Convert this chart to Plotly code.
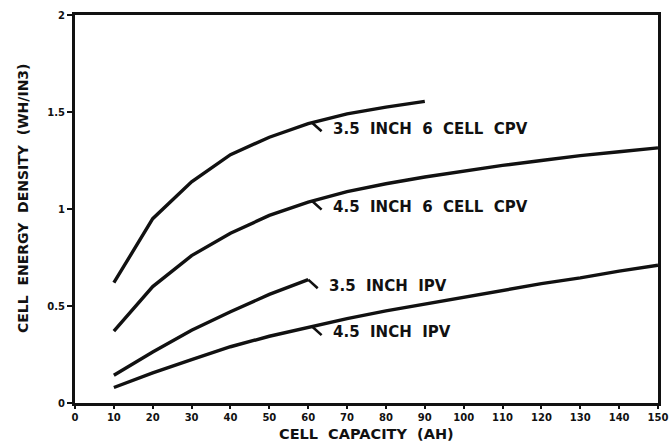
import numpy as np
import plotly.graph_objects as go

# Cell capacity (AH) sample points
cap_short = [10, 20, 30, 40, 50, 60, 70, 80, 90]
cap_ipv35 = [10, 20, 30, 40, 50, 60]
cap_long = [10, 20, 30, 40, 50, 60, 70, 80, 90, 100, 110, 120, 130, 140, 150]

# Cell energy density (WH/IN3)
cpv_35 = [0.62, 0.95, 1.14, 1.28, 1.37, 1.44, 1.49, 1.525, 1.555]
cpv_45 = [0.37, 0.60, 0.76, 0.875, 0.967, 1.036, 1.09, 1.13, 1.165,
          1.195, 1.225, 1.25, 1.275, 1.295, 1.315]
ipv_35 = [0.143, 0.263, 0.375, 0.47, 0.56, 0.636]
ipv_45 = [0.08, 0.155, 0.224, 0.29, 0.344, 0.39, 0.435, 0.475, 0.51,
          0.545, 0.58, 0.615, 0.645, 0.68, 0.71]

x_ticks = list(range(0, 151, 10))
y_ticks = [0, 0.5, 1, 1.5, 2]
y_tick_text = ["0", "0.5", "1", "1.5", "2"]

x_title = "CELL  CAPACITY  (AH)"
y_title = "CELL  ENERGY  DENSITY  (WH/IN3)"

curves = [
    ("3.5  INCH  6  CELL  CPV", cap_short, cpv_35, 61),
    ("4.5  INCH  6  CELL  CPV", cap_long, cpv_45, 61),
    ("3.5  INCH  IPV", cap_ipv35, ipv_35, 60),
    ("4.5  INCH  IPV", cap_long, ipv_45, 61),
]

INK = "#111111"
FONT = "DejaVu Sans"

fig = go.Figure()
annotations = []
for label, xs, ys, x_lead in curves:
    fig.add_trace(go.Scatter(
        x=xs, y=ys, mode="lines", name=label,
        line=dict(color=INK, width=3.4), showlegend=False,
    ))
    y_lead = float(np.interp(x_lead, xs, ys))
    # short diagonal leader from the curve toward its label
    annotations.append(dict(
        x=x_lead, y=y_lead, xref="x", yref="y", text="",
        showarrow=True, arrowhead=0, arrowwidth=2.6, arrowcolor=INK,
        ax=11, ay=10, standoff=0, startstandoff=0,
    ))
    annotations.append(dict(
        x=x_lead, y=y_lead, xref="x", yref="y", text=label,
        showarrow=False, xanchor="left", yanchor="middle",
        xshift=19, yshift=-6,
        font=dict(family=FONT, size=15, color=INK, weight="bold"),
    ))

# axis titles placed just outside the plotting area
annotations.append(dict(
    x=0.5, y=0, xref="paper", yref="paper", text=x_title,
    showarrow=False, xanchor="center", yanchor="middle", yshift=-31,
    font=dict(family=FONT, size=14.5, color=INK, weight="bold"),
))
annotations.append(dict(
    x=0, y=0.5, xref="paper", yref="paper", text=y_title, textangle=-90,
    showarrow=False, xanchor="center", yanchor="middle",
    xshift=-52, yshift=11,
    font=dict(family=FONT, size=14, color=INK, weight="bold"),
))

fig.update_layout(
    width=672, height=445,
    margin=dict(l=75, r=14, t=15, b=42),
    paper_bgcolor="white", plot_bgcolor="white",
    annotations=annotations,
    font=dict(family=FONT, color=INK),
)

fig.update_xaxes(
    range=[0, 150], tickvals=x_ticks, ticktext=[str(v) for v in x_ticks],
    ticks="outside", ticklen=3, tickwidth=2, tickcolor=INK,
    showline=True, linewidth=3, linecolor=INK, mirror=True,
    showgrid=False, zeroline=False, automargin=False,
    tickfont=dict(family=FONT, size=10, color=INK, weight="bold"),
)
fig.update_yaxes(
    range=[0, 2], tickvals=y_ticks, ticktext=y_tick_text,
    ticks="outside", ticklen=5, tickwidth=2, tickcolor=INK,
    showline=True, linewidth=3, linecolor=INK, mirror=True,
    showgrid=False, zeroline=False, automargin=False,
    tickfont=dict(family=FONT, size=10, color=INK, weight="bold"),
)

fig.write_html("out.html")
